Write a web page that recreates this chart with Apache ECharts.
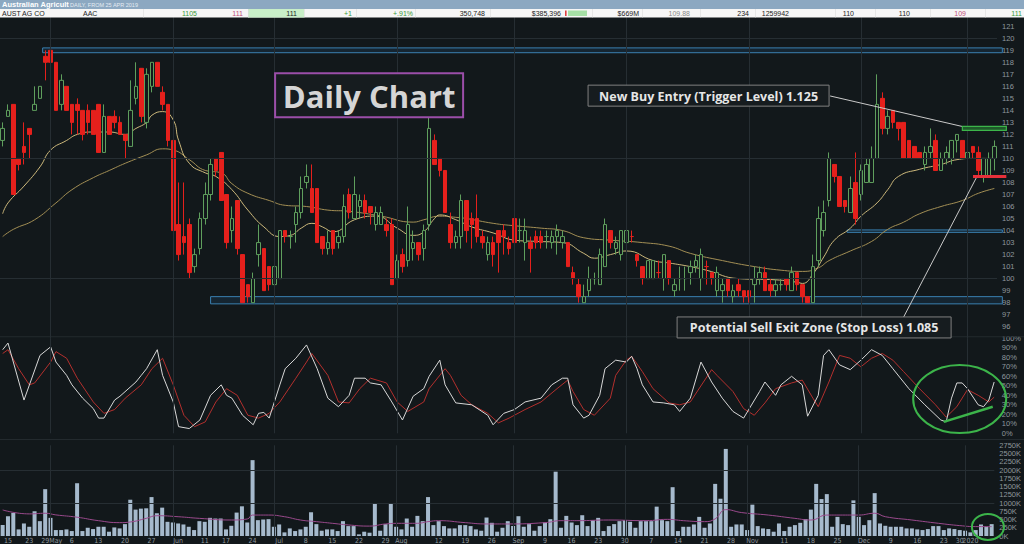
<!DOCTYPE html>
<html><head><meta charset="utf-8">
<script src="https://cdn.jsdelivr.net/npm/echarts@6/dist/echarts.min.js"></script>
<style>html,body{margin:0;padding:0;background:#12181b;}#c{width:1024px;height:544px;}</style>
</head><body><div id="c"></div>
<script>
// ---------- DATA ----------
const tradingDays = [
 ['2019-04',[12,15,16,17,18,23,24,26,29,30]],
 ['2019-05',[1,2,3,6,7,8,9,10,13,14,15,16,17,20,21,22,23,24,27,28,29,30,31]],
 ['2019-06',[3,4,5,6,7,11,12,13,14,17,18,19,20,21,24,25,26,27,28]],
 ['2019-07',[1,2,3,4,5,8,9,10,11,12,15,16,17,18,19,22,23,24,25,26,29,30,31]],
 ['2019-08',[1,2,5,6,7,8,9,12,13,14,15,16,19,20,21,22,23,26,27,28,29,30]],
 ['2019-09',[2,3,4,5,6,9,10,11,12,13,16,17,18,19,20,23,24,25,26,27,30]],
 ['2019-10',[1,2,3,4,7,8,9,10,11,14,15,16,17,18,21,22,23,24,25,28,29,30,31]],
 ['2019-11',[1,4,5,6,7,8,11,12,13,14,15,18,19,20,21,22,25,26,27,28,29]],
 ['2019-12',[2,3,4,5,6,9,10,11,12,13,16,17,18,19,20,23,24,27,30,31]],
 ['2020-01',[2,3,6,7,8]]
];
const tickLabels = {'2019-04-15':'15','2019-04-23':'23','2019-04-29':'29','2019-05-01':'May','2019-05-06':'6','2019-05-13':'13','2019-05-20':'20','2019-05-27':'27','2019-06-03':'Jun','2019-06-11':'11','2019-06-17':'17','2019-06-24':'24','2019-07-01':'Jul','2019-07-08':'8','2019-07-15':'15','2019-07-22':'22','2019-07-29':'29','2019-08-01':'Aug','2019-08-12':'12','2019-08-19':'19','2019-08-26':'26','2019-09-02':'Sep','2019-09-09':'9','2019-09-16':'16','2019-09-23':'23','2019-09-30':'30','2019-10-07':'7','2019-10-14':'14','2019-10-21':'21','2019-10-28':'28','2019-11-01':'Nov','2019-11-11':'11','2019-11-18':'18','2019-11-25':'25','2019-12-02':'Dec','2019-12-09':'9','2019-12-16':'16','2019-12-23':'23','2019-12-30':'30','2020-01-02':'2020'};
const monthEnds = ['2019-04-30','2019-05-31','2019-06-28','2019-07-31','2019-08-30','2019-09-30','2019-10-31','2019-11-29','2019-12-31'];

// candles: [open, close, low, high] (cents)
const candles = [
[111.5,112.5,111,113],[113.5,114,113.5,114.5],[114.5,107,107,114.5],[110,109.5,109,110],[111,110.5,109.5,113],
[112.5,112,110,112.5],[114,114.5,114,116],[115,116,115,116],[118.5,118,116.5,119],[119,118,118,119],
[118,114,114,118],[114.5,116.5,114,117],[116,114,114,116],[114.5,113,112,114.5],[114.5,114,112,115],
[114,112,111.5,114],[114,113,112,114.5],[114,112,112,114],[114.5,110.5,110.5,114.5],[110.5,113.5,110.5,114.5],
[113.5,112,112,113.5],[113.5,113,112.5,114],[113,112,112,113.5],[112,111.5,110,112],[111,114,111,116.5],
[115,116,114.5,118],[117.5,113.5,113,117.5],[113,117,112.5,117.5],[116,118,115.5,118],[118,116,116,118],
[115.5,114.5,114,116],[114.5,111.5,111,114.5],[111.5,104,104,111.5],[104.5,102,101.5,108],[103.5,103,102,108],
[104.5,100.5,100,105],[101,102,100.5,102.5],[102.5,105,102,105.5],[105,107,104.5,108],[107,109.5,106.5,110],
[110,109,108.5,110],[110.5,106.5,106.5,110.5],[107,103,102.5,107],[104,105,103,106],[106.5,102.5,102,106.5],
[102,98,98,102],[99.5,98.5,98,99.5],[98,100,98,100.5],[102,103,101,104.5],[102.5,99,99,102.5],
[101,99.5,99,101],[99.5,101,99,101],[100,104,100,104],[104,103.5,103,104],[103.5,103.5,102.5,104],
[104.5,105.5,103,106],[105.5,107.5,105,108.5],[108,108.5,107.5,109.5],[107.5,105.5,105.5,109.5],[107.5,103,103,107.5],
[103.5,102.5,102,103.5],[102.5,103,102,104],[104,102.5,102,104],[103,103.5,102.5,104],[103.5,106,103,107],
[107,105.5,105,107.5],[105,107,105,108.5],[106,106.5,105,107],[106.5,105.5,105,107],[106,105.5,104.5,106],
[104.5,105.5,104,106],[104.5,105.5,104.5,106],[104.5,104,103.5,105],[104.5,99.5,99.5,105],[100,101.5,100,102],
[102,101,100.5,102.5],[101.5,104.5,101,106],[102.5,103,101.5,104],[103,102,101.5,103],[102.5,104,101.5,104.5],
[104.5,112.5,104,113.5],[111.5,109.5,109.5,112],[110,109,108.5,110],[109,105.5,105.5,109],[104.5,103,102.5,105.5],
[103,103.5,102.5,104],[103.5,106.5,102.5,107],[106.5,104,103,106.5],[105,104.5,102.5,105.5],[105,103.5,103,107],
[103.5,103,102.5,104],[102,103,101.5,103.5],[103,102,101,103.5],[104,103,100.5,104],[104,103.5,102,104.5],
[103,102.5,102,103.5],[105,103,102,105.5],[104,104,103,105],[103,104,101.5,105],[103,102.5,100.5,103.5],
[103.5,103,102.5,104],[103.5,103,102.5,104],[103.5,103.5,102.5,104],[103,103.5,102.5,104],[103.5,104,102,104.5],
[103,103.5,102.5,104],[103,101,101,103],[100.5,100,99.5,101],[99.5,98.5,98,100],[98,98.5,98,99.5],
[99,100,98.5,101],[100,100,99.5,100.5],[99.5,102,99.5,102.5],[101,104.5,101,105],[104,103,102.5,104],
[102.5,103,102,103.5],[102,104,101.5,104],[103,104,102.5,104],[103.5,103.5,103,104],[102,101.5,101,102],
[101,100,99.5,101],[100,101.5,100,101.5],[100,101.5,100,101.5],[100.5,100.5,100,101.5],[100,102,99,102],
[101.5,100,99.5,101.5],[99,99.5,98.5,100],[100,100,99,101],[100,100,99,101],[100.5,101,99.5,101.5],
[101,101.5,100.5,102],[100,102,99,102.5],[101,101,99.5,101.5],[100.5,100,99.5,100.5],[99,100.5,98.5,101],
[99,99.5,98,100],[100,99,98.5,100],[98.5,99,98,99.5],[99.5,99,98.5,100],[99,98.5,98,99],
[99,98.5,98,99],[99.5,100,98,101],[100,100.5,99.5,101],[100.5,99,99,101],[99.5,99,98.5,100],
[99,99.5,98.5,100],[99.5,99.5,99,100],[100,99.5,99,100],[99,100.5,99,101],[100.5,99.5,99,100.5],
[99.5,98.5,98,99.5],[98.5,98,98,98.5],[98,101,98,102],[101.5,105,101,106],[104,105.5,103.5,106.5],
[106.5,110,106,110.5],[109.5,108.5,108,109.5],[108.5,106,106,108.5],[106.5,106,105.5,106.5],[105.5,107.5,105.5,108.5],
[108,105,104.5,110.5],[107,109,106.5,109.5],[108,109.5,108,110],[108,110,108,111],[110,114.5,110,117],
[115,112.5,112,115.5],[112.5,113.5,112,114],[114,113,112.5,114],[113,112.5,111.5,113],[113,110,110,113],
[111.5,110,110,111.5],[111,110,110,111],[110.5,110,110,110.5],[109.5,110.5,109,111],[110.5,111,110,112.5],
[111.5,109,109,112],[109,110,109,110.5],[110,110.5,109.5,111],[110,111.5,109.5,111.5],[111.5,112,110.5,112],
[111.5,110,110,111.5],[110,110.5,109.5,111],[111,110.5,110,111],[110.5,109,108.5,111],[108.5,110,108,110],
[108.5,110,108.5,110.5],[110,111,109,111.5]
];
// volume (thousands of shares)
const volume = [
330,600,700,200,380,280,750,450,1420,550,180,180,200,150,1600,150,250,210,280,280,
130,260,230,360,1100,800,830,840,1180,690,860,430,410,380,350,280,180,450,430,550,
530,530,200,310,710,900,410,2300,480,500,510,280,350,110,230,150,200,280,720,360,
160,200,200,150,450,300,300,50,130,100,970,160,360,970,280,200,530,280,610,450,
1180,330,450,300,230,230,330,330,300,200,160,560,400,130,250,450,300,600,280,360,
160,300,410,510,1950,250,610,410,330,630,300,480,550,150,300,360,450,480,430,250,
450,450,450,890,480,450,1480,150,280,280,350,580,250,380,1580,1130,2640,280,350,350,
180,950,300,230,210,130,380,150,280,330,400,510,800,1580,1120,1270,280,580,360,330,
1080,580,330,480,1300,380,310,280,280,280,230,230,200,180,210,300,300,180,230,210,
180,160,110,180,350,280,360
];
// volume moving average, read at sampled days [dayIndex, thousands]
const volumeAvg = [[0,790],[5,670],[8,690],[10,640],[14,570],[18,465],[22,405],[24,425],[27,535],[29,615],[33,585],[37,535],[43,485],[46,515],[47,635],[50,635],[53,585],[56,485],[59,435],[62,385],[65,335],[69,300],[72,365],[75,385],[78,385],[80,435],[82,465],[87,405],[91,365],[95,365],[102,405],[105,465],[108,465],[114,485],[121,465],[125,505],[128,465],[132,435],[134,520],[136,800],[139,710],[144,635],[149,535],[152,485],[155,635],[158,635],[161,635],[164,690],[166,585],[171,485],[176,385],[180,315],[183,285],[186,285]];
// price moving averages read at sampled days [dayIndex, cents]
const maFast = [[0,105.4],[1,106.3],[4,107.7],[7,109.3],[9,110.7],[12,111.5],[14,112],[17,112.2],[20,112.2],[23,112],[25,112.5],[27,113],[28,113.6],[30,113.9],[32,113.2],[33,111.5],[35,109.6],[38,108.8],[40,108.5],[43,107.4],[46,105.7],[49,104.3],[52,103.5],[54,103.6],[56,104.2],[58,104.6],[60,104.3],[62,103.9],[66,104.9],[70,105.2],[74,104.2],[77,103.6],[79,103.9],[81,105],[82,105.3],[85,104.9],[88,104.3],[92,103.8],[96,103.2],[100,103.1],[105,103],[109,102.1],[111,101.7],[114,102],[117,102.3],[122,101.5],[125,101.3],[129,101],[132,100.7],[138,100],[145,99.9],[149,99.7],[150,99.6],[152,100.4],[154,101.8],[156,103.2],[159,104.2],[161,105.2],[164,106.3],[166,107.4],[168,108.5],[172,109.1],[176,109.5],[179,109.9],[182,110],[186,110]];
const maSlow = [[0,103.5],[2,104.1],[6,104.9],[10,106.3],[13,107.4],[17,108.4],[20,109],[23,109.6],[27,110.3],[30,110.8],[32,110.7],[35,109.9],[38,109],[41,108.8],[43,107.9],[46,107.1],[50,106.5],[53,106.1],[57,106],[61,105.7],[65,105.6],[71,105.2],[77,104.7],[79,104.9],[82,105.2],[85,105.1],[87,105],[92,104.6],[96,104.4],[101,104.2],[105,104],[109,103.4],[114,103.2],[120,103],[125,102.7],[129,102.1],[135,101.5],[141,101],[146,100.7],[150,100.6],[153,100.9],[155,101.5],[159,102.3],[163,103.1],[166,104.1],[169,104.7],[172,105.4],[176,106],[180,106.5],[183,107.1],[186,107.5]];
// stochastic %K and %D read at sampled days [dayIndex, percent]
const stochK = [[0,88],[1,95],[4,35],[7,82],[9,91],[10,75],[12,61],[13,51],[15,37],[17,26],[18,16],[19,16],[21,35],[22,39],[25,54],[26,61],[27,68],[29,88],[30,61],[32,33],[33,7],[35,5],[37,14],[39,40],[41,51],[42,40],[43,37],[45,19],[47,9],[48,21],[49,22],[50,16],[52,51],[53,68],[55,79],[57,93],[59,68],[61,37],[63,28],[65,40],[66,58],[68,58],[69,53],[71,51],[73,33],[75,14],[77,39],[79,47],[80,60],[82,77],[83,51],[85,32],[88,30],[91,19],[92,9],[94,21],[96,25],[98,33],[101,37],[103,51],[105,58],[106,58],[107,30],[109,16],[110,19],[112,40],[113,68],[115,77],[117,75],[118,81],[119,68],[120,51],[122,33],[124,32],[126,30],[127,23],[129,37],[131,75],[133,54],[135,37],[137,23],[139,16],[142,44],[143,54],[145,40],[146,51],[148,60],[150,51],[151,18],[153,40],[154,82],[155,88],[157,72],[159,67],[161,77],[163,88],[165,82],[167,68],[170,47],[173,30],[176,14],[177,12],[178,37],[179,53],[180,53],[181,47],[183,30],[184,28],[185,35],[186,54]];
const stochD = [[0,84],[1,88],[3,68],[5,51],[6,53],[9,75],[10,86],[12,79],[14,58],[17,33],[19,21],[21,25],[23,37],[26,51],[28,68],[30,79],[32,51],[34,19],[36,7],[38,12],[40,33],[42,47],[44,40],[46,19],[48,16],[50,21],[52,33],[55,58],[57,75],[58,84],[61,61],[63,33],[65,32],[67,47],[69,58],[72,53],[74,33],[76,23],[79,33],[80,47],[83,68],[84,61],[86,40],[88,30],[91,21],[93,11],[95,16],[98,25],[101,33],[104,47],[106,56],[107,44],[109,25],[111,19],[114,37],[115,61],[117,77],[118,81],[120,65],[122,47],[125,32],[127,30],[129,33],[133,67],[134,61],[137,44],[139,26],[141,19],[143,32],[145,47],[148,53],[150,56],[152,37],[153,28],[155,54],[157,82],[159,79],[161,70],[163,79],[165,84],[167,77],[169,65],[172,47],[175,30],[177,17],[179,28],[181,46],[183,40],[185,33],[186,38]];

// annotation levels (data terms)
const supportZones = [[7.5,118.8,119.2],[39,97.9,98.5],[158.4,103.85,104.05]]; // [fromDay, low, high]
const triggerLevel = [180, 112.5];
const stopLevel = [182, 108.5];
const headerCells = [
 ['AUST AG CO',2,'#222','left'],['AAC',83,'#222','left'],['1105',197,'#3a9a3a','right'],['111',243,'#c0507a','right'],
 ['111',297,'#222','right'],['+1',352,'#3a9a3a','right'],['+.91%',413,'#3a9a3a','right'],['350,748',485,'#222','right'],
 ['$385,396',561,'#222','right'],['$669M',639,'#222','right'],['109.88',690,'#888','right'],['234',749,'#222','right'],
 ['1259942',789,'#222','right'],['110',854,'#222','right'],['110',910,'#222','right'],['109',966,'#c0507a','right'],['111',1022,'#3a9a3a','right']
];

// ---------- CHART ----------
const dates = [];
tradingDays.forEach(([m, ds]) => ds.forEach(d => dates.push(m + '-' + String(d).padStart(2, '0'))));

const chart = echarts.init(document.getElementById('c'), null, {renderer: 'svg'});
const BG = '#12181b', GRIDC = '#262e33', LBL = '#8f979d';
const FONT = 'Liberation Sans';
const gridBase = {left: 0, right: 27};
const mkX = (k) => ({
  type: 'category', gridIndex: k, data: dates, boundaryGap: true,
  axisLine: {show: false}, axisTick: {show: false}, splitLine: {show: false},
  axisLabel: {show: false}
});
const mkY = (k, min, max, interval, fmt) => ({
  type: 'value', gridIndex: k, position: 'right', min, max, interval, scale: true,
  axisLine: {show: false}, axisTick: {show: false}, splitLine: {show: false},
  axisLabel: {color: LBL, fontSize: 7.5, fontFamily: FONT, margin: 5, formatter: fmt, hideOverlap: false}
});
const gridLines = (k, yVals) => ({
  type: 'line', xAxisIndex: k, yAxisIndex: k, data: [], z: 1, silent: true,
  markLine: {
    silent: true, symbol: ['none', 'none'], animation: false, label: {show: false},
    lineStyle: {color: GRIDC, width: 1, type: 'solid'},
    data: monthEnds.map(d => ({xAxis: d})).concat(yVals.map(v => ({yAxis: v})))
  }
});

const option = {
  backgroundColor: BG,
  animation: false,
  grid: [
    Object.assign({top: 14.25, height: 324.45}, gridBase),
    Object.assign({top: 338.3, height: 95}, gridBase),
    Object.assign({top: 445.3, height: 90.7}, gridBase)
  ],
  xAxis: [mkX(0), mkX(1), mkX(2)],
  yAxis: [
    mkY(0, 95, 122, 1, v => (v === 95 || v === 122) ? '' : String(v)),
    mkY(1, 0, 100, 10, v => v + '%'),
    mkY(2, 0, 2750, 250, v => v + 'K')
  ],
  series: [
    gridLines(0, [100, 110, 120]),
    gridLines(1, []),
    gridLines(2, [1000, 2000]),
    {type: 'line', name: 'MA slow', xAxisIndex: 0, yAxisIndex: 0, data: maSlow, smooth: true, showSymbol: false, z: 2,
     lineStyle: {color: '#a38f55', width: 1}},
    {type: 'line', name: 'MA fast', xAxisIndex: 0, yAxisIndex: 0, data: maFast, smooth: true, showSymbol: false, z: 2,
     lineStyle: {color: '#cdb97c', width: 1}},
    {type: 'candlestick', name: 'AAC', xAxisIndex: 0, yAxisIndex: 0, data: candles, barWidth: 4, z: 3,
     itemStyle: {color: BG, color0: '#e5201c', borderColor: '#5f9f5d', borderColor0: '#e5201c', borderWidth: 1}},
    {type: 'line', name: '%D', xAxisIndex: 1, yAxisIndex: 1, data: stochD, showSymbol: false, z: 2,
     lineStyle: {color: '#b3302e', width: 1}},
    {type: 'line', name: '%K', xAxisIndex: 1, yAxisIndex: 1, data: stochK, showSymbol: false, z: 3,
     lineStyle: {color: '#d8d8d8', width: 1}},
    {type: 'bar', name: 'Volume', xAxisIndex: 2, yAxisIndex: 2, data: volume, barWidth: 4, z: 2,
     itemStyle: {color: '#a6bacd'}},
    {type: 'line', name: 'Vol MA', xAxisIndex: 2, yAxisIndex: 2, data: volumeAvg, smooth: true, showSymbol: false, z: 3,
     lineStyle: {color: '#9a4a8c', width: 1}}
  ]
};
chart.setOption(option);

// ---------- ANNOTATIONS (positioned through the chart's own scales) ----------
const P = (g, i, v) => chart.convertToPixel({gridIndex: g}, [i, v]);
const x0 = P(0, 0, 100)[0], step = P(0, 1, 100)[0] - x0;
const X = i => x0 + i * step;
const Y = (g, v) => P(g, 0, v)[1];
const rightEdge = X(dates.length - 1) + 8;
const g = [];
// date tick labels along the bottom, at each labelled day's band centre
const axisY = Y(2, 0) + 4.5;
dates.forEach((d, i) => {
  if (tickLabels[d]) g.push({type: 'text', z: 5, silent: true, x: chart.convertToPixel({xAxisIndex: 2}, d), y: axisY,
    style: {text: tickLabels[d], font: '7px "Liberation Sans Narrow", "DejaVu Sans Condensed", "Liberation Sans"', fill: LBL, textAlign: 'center', textVerticalAlign: 'middle'}});
});
supportZones.forEach(([from, lo, hi]) => {
  g.push({type: 'rect', z: 1, silent: true,
    shape: {x: X(from), y: Y(0, hi), width: rightEdge - X(from), height: Y(0, lo) - Y(0, hi)},
    style: {fill: 'rgba(40,100,150,0.18)', stroke: '#3a80b2', lineWidth: 1}});
});
g.push({type: 'rect', z: 10, shape: {x: X(triggerLevel[0]), y: Y(0, triggerLevel[1]) - 2, width: rightEdge + 4 - X(triggerLevel[0]), height: 4},
  style: {fill: '#1f5a2a', stroke: '#3cb54a', lineWidth: 1.2}});
g.push({type: 'rect', z: 10, shape: {x: X(stopLevel[0]), y: Y(0, stopLevel[1]) - 1.5, width: rightEdge + 4 - X(stopLevel[0]), height: 3},
  style: {fill: '#e8303a'}});
// connector lines
g.push({type: 'line', z: 9, shape: {x1: X(155.2), y1: Y(0, 115.2), x2: X(triggerLevel[0]), y2: Y(0, 112.66)}, style: {stroke: '#c9c9c9', lineWidth: 1}});
g.push({type: 'line', z: 9, shape: {x1: X(168.9), y1: Y(0, 96.73), x2: X(182.7), y2: Y(0, 108.46)}, style: {stroke: '#c9c9c9', lineWidth: 1}});
// text boxes
const box = (i, v, w, h, stroke, lw, text, font, color) => {
  const bx = X(i), by = Y(0, v);
  g.push({type: 'rect', z: 20, shape: {x: bx, y: by, width: w, height: h}, style: {fill: '#161c1f', stroke, lineWidth: lw}});
  g.push({type: 'text', z: 21, x: bx + w / 2, y: by + h / 2 + 0.5,
    style: {text, font, fill: color, textAlign: 'center', textVerticalAlign: 'middle'}});
};
box(51.1, 117.1, 188, 44, '#9b4ea9', 2, 'Daily Chart', 'bold 31px "Open Sans"', '#d5d5d5');
box(109.8, 116.1, 241, 21, '#808080', 1, 'New Buy Entry (Trigger Level) 1.125', 'bold 12.5px "Open Sans"', '#e6e6e6');
box(126.5, 96.81, 274, 21, '#808080', 1, 'Potential Sell Exit Zone (Stop Loss) 1.085', 'bold 12.5px "Open Sans"', '#e6e6e6');
// green ellipses & trend line
g.push({type: 'ellipse', z: 20, shape: {cx: X(179.5), cy: Y(1, 36), rx: 46.5, ry: 34}, style: {fill: 'none', stroke: '#3cb44a', lineWidth: 2}});
g.push({type: 'line', z: 20, shape: {x1: X(176.5), y1: Y(1, 12), x2: X(185.7), y2: Y(1, 28)}, style: {stroke: '#3cb44a', lineWidth: 2.5}});
g.push({type: 'ellipse', z: 20, shape: {cx: X(184.8), cy: Y(2, 275), rx: 16, ry: 13}, style: {fill: 'none', stroke: '#3cb44a', lineWidth: 2}});
// header
g.push({type: 'rect', z: 200, shape: {x: 0, y: 0, width: 1024, height: 9}, style: {fill: '#8ca8c1'}});
g.push({type: 'text', z: 201, x: 2, y: 4.6, style: {text: 'Australian Agricult', font: 'bold 7.5px "Liberation Sans"', fill: '#ffffff', textVerticalAlign: 'middle'}});
g.push({type: 'text', z: 201, x: 70, y: 4.8, style: {text: 'DAILY, FROM 25 APR 2019', font: '5.5px "Liberation Sans"', fill: '#e4ecf3', textVerticalAlign: 'middle'}});
g.push({type: 'rect', z: 200, shape: {x: 0, y: 9, width: 1024, height: 8.5}, style: {fill: '#f6f6f6'}});
g.push({type: 'rect', z: 200, shape: {x: 248, y: 9, width: 56, height: 8.5}, style: {fill: '#c8efc8'}});
g.push({type: 'rect', z: 201, shape: {x: 565, y: 10.5, width: 1.6, height: 5.5}, style: {fill: '#e04040'}});
g.push({type: 'rect', z: 201, shape: {x: 568, y: 10.5, width: 19, height: 5.5}, style: {fill: '#a6e0a6'}});
[143, 248, 304, 356, 415, 490, 592, 642, 700, 755, 835, 875, 930, 985].forEach(sx =>
  g.push({type: 'rect', z: 201, shape: {x: sx, y: 9, width: 0.6, height: 8.5}, style: {fill: '#dcdcdc'}}));
headerCells.forEach(([t, hx, col, al]) =>
  g.push({type: 'text', z: 202, x: hx, y: 13.5, style: {text: t, font: '7px "Liberation Sans"', fill: col, textAlign: al, textVerticalAlign: 'middle'}}));
// panel separators
g.push({type: 'rect', z: 1, shape: {x: 0, y: Y(1, 100) - 2, width: 1024, height: 1}, style: {fill: '#232a2e'}});
g.push({type: 'rect', z: 1, shape: {x: 0, y: 439, width: 1024, height: 1}, style: {fill: '#232a2e'}});
chart.setOption({graphic: {elements: g}});
</script></body></html>
